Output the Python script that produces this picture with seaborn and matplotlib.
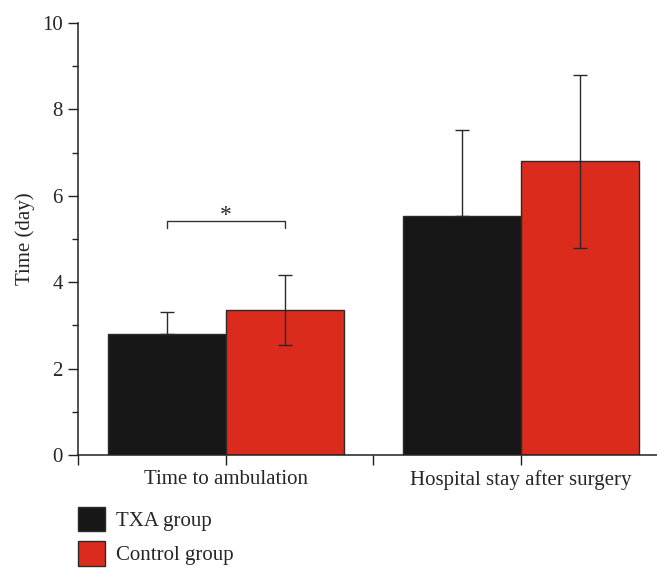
import numpy as np
import pandas as pd
import matplotlib
matplotlib.use('Agg')
import matplotlib.pyplot as plt
import seaborn as sns
from matplotlib.ticker import MultipleLocator, FixedLocator

outcomes = ['Time to ambulation', 'Hospital stay after surgery']
groups = ['TXA group', 'Control group']
txa_mean = [2.80, 5.53]
txa_sd = [0.50, 2.00]
ctrl_mean = [3.35, 6.80]
ctrl_sd = [0.81, 2.00]
colors = ['#171717', '#da2b1d']

sns.set_style('ticks')
plt.rcParams['font.family'] = ['Liberation Serif', 'DejaVu Serif']

df = pd.DataFrame({
    'outcome': outcomes * 2,
    'group': [groups[0]] * 2 + [groups[1]] * 2,
    'mean': txa_mean + ctrl_mean,
    'sd': txa_sd + ctrl_sd,
})

fig = plt.figure(figsize=(6.57, 5.69), dpi=100)
ax = fig.add_axes([78 / 657, 1 - 455 / 569, 1 - 78 / 657, (455 - 23) / 569])

sns.barplot(data=df, x='outcome', y='mean', hue='group', order=outcomes,
            hue_order=groups, palette=colors, width=0.8, errorbar=None,
            edgecolor='#2a2a2a', linewidth=1.0, saturation=1, ax=ax)

# error bars: TXA only shows the upper half (lower is hidden in the black bar)
for bars, g in zip(ax.containers, groups):
    sub = df[df.group == g].set_index('outcome').loc[outcomes]
    xs = [b.get_x() + b.get_width() / 2 for b in bars]
    sd = sub['sd'].values
    lower = np.zeros_like(sd) if g == groups[0] else sd
    ax.errorbar(xs, sub['mean'], yerr=[lower, sd], fmt='none', ecolor='#2a2a2a',
                elinewidth=1.0, capsize=5.3, capthick=1.0, zorder=5)

# significance bracket
x0 = ax.containers[0][0].get_x() + ax.containers[0][0].get_width() / 2
x1 = ax.containers[1][0].get_x() + ax.containers[1][0].get_width() / 2
ax.plot([x0, x0, x1, x1], [5.26, 5.42, 5.42, 5.26], color='#333333', lw=1.0)
ax.text((x0 + x1) / 2, 5.54, '*', ha='center', va='center', fontsize=17)

ax.set_xlim(-0.5, 1.46)
ax.set_ylim(0, 10)
ax.yaxis.set_major_locator(MultipleLocator(2))
ax.yaxis.set_minor_locator(MultipleLocator(1))
ax.xaxis.set_minor_locator(FixedLocator([-0.5, 0.5]))
ax.tick_params(axis='both', which='major', length=7, width=1.0, color='#222222',
               labelsize=15, pad=4)
ax.tick_params(axis='both', which='minor', length=4, width=1.0, color='#222222')
ax.tick_params(axis='x', which='minor', length=7)
ax.set_xlabel('')
ax.set_ylabel('Time (day)', fontsize=15, labelpad=5)
sns.despine(ax=ax)
for s in ['left', 'bottom']:
    ax.spines[s].set_linewidth(1.1)
    ax.spines[s].set_color('#222222')

ax.legend(loc='upper left', bbox_to_anchor=(78 / 657, 1 - 507 / 569),
          bbox_transform=fig.transFigure, frameon=False, fontsize=15,
          handlelength=1.3, handleheight=1.4, labelspacing=0.5,
          handletextpad=0.5, borderpad=0, borderaxespad=0)

fig.savefig('out.png', dpi=100)
